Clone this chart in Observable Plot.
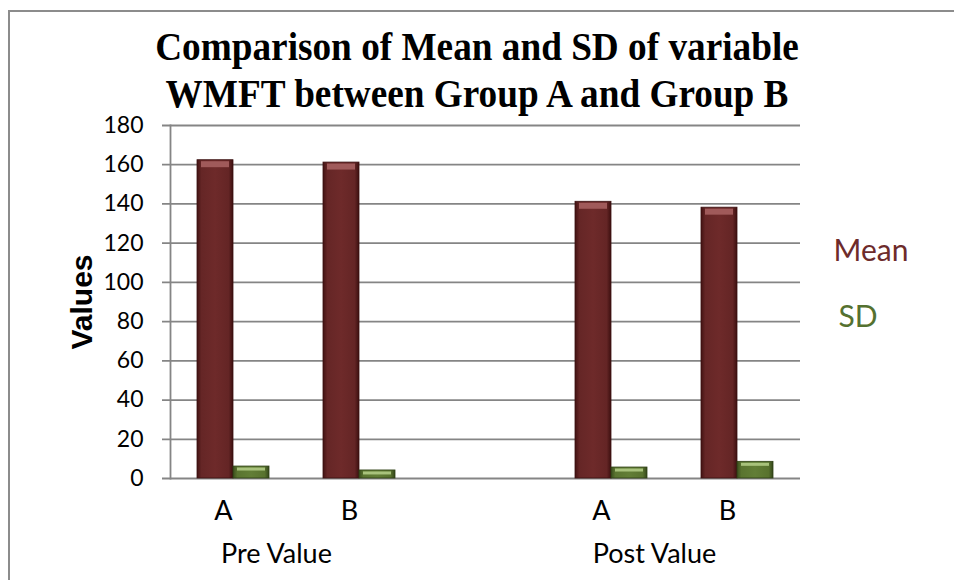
<!DOCTYPE html>
<html>
<head>
<meta charset="utf-8">
<script src="https://cdn.jsdelivr.net/npm/d3@7"></script>
<script src="https://cdn.jsdelivr.net/npm/@observablehq/plot@0.6"></script>
<style>
  html, body { margin: 0; padding: 0; background: #fff; }
  #wrap { position: relative; width: 954px; height: 580px; overflow: hidden; }
  #border { position: absolute; left: 8px; top: 10px; width: 1000px; height: 700px;
            border-left: 2.5px solid #8c8c8c; border-top: 2.5px solid #8c8c8c; }
  #title { position: absolute; left: 0; width: 954px; top: 23px; text-align: center;
           font-family: "Liberation Serif", "Times New Roman", serif; font-weight: bold;
           font-size: 39px; line-height: 47px; color: #000;
           transform: scaleX(0.955); transform-origin: 477px 0; }
  #chart { position: absolute; left: 0; top: 0; }
</style>
</head>
<body>
<svg width="0" height="0" style="position:absolute">
  <defs>
    <linearGradient id="gMean" x1="0" x2="1" y1="0" y2="0">
      <stop offset="0" stop-color="#421212"/>
      <stop offset="0.12" stop-color="#652626"/>
      <stop offset="0.5" stop-color="#6e2a2a"/>
      <stop offset="0.88" stop-color="#642525"/>
      <stop offset="1" stop-color="#3c0f0f"/>
    </linearGradient>
    <linearGradient id="gSD" x1="0" x2="1" y1="0" y2="0">
      <stop offset="0" stop-color="#3a4d1c"/>
      <stop offset="0.12" stop-color="#5a7430"/>
      <stop offset="0.5" stop-color="#627e36"/>
      <stop offset="0.88" stop-color="#58722e"/>
      <stop offset="1" stop-color="#34461a"/>
    </linearGradient>
  </defs>
</svg>
<div id="wrap">
  <div id="border"></div>
  <div id="chart"></div>
  <div id="title">Comparison of Mean and SD of variable<br>WMFT between Group A and Group B</div>
</div>
<script>
// ---- data ----
const phases = ["Pre Value", "Pre Value", "Post Value", "Post Value"];
const groups = ["A", "B", "A", "B"];
const meanValues = [162.3, 161.1, 141.1, 138.1];
const sdValues = [6.1, 4.1, 5.6, 8.5];
const seriesNames = ["Mean", "SD"];
const yTicks = [0, 20, 40, 60, 80, 100, 120, 140, 160, 180];
const phaseNames = ["Pre Value", "Post Value"];
const gapSlot = "gap";

// ---- build table ----
const rows = phases.map((p, i) => ({
  slot: p + "|" + groups[i], phase: p, group: groups[i],
  mean: meanValues[i], sd: sdValues[i]
}));
const slotOrder = [rows[0].slot, rows[1].slot, gapSlot, rows[2].slot, rows[3].slot];
const phaseRows = phaseNames.map(p => ({phase: p, slot: rows.find(r => r.phase === p).slot}));

const grid = "#858585";
const chart = Plot.plot({
  width: 954,
  height: 580,
  marginLeft: 170,
  marginRight: 154,
  marginTop: 125,
  marginBottom: 102,
  style: {fontFamily: "Lato, 'Open Sans', sans-serif", fontSize: "22px", background: "transparent", overflow: "visible"},
  x: {type: "band", domain: slotOrder, padding: 0},
  y: {domain: [0, 180]},
  marks: [
    Plot.ruleY(yTicks, {stroke: grid, strokeWidth: 1.8, insetLeft: -8}),
    Plot.frame({anchor: "left", stroke: grid, strokeWidth: 1.8}),
    Plot.axisY({ticks: yTicks, tickSize: 0, tickPadding: 27, label: null, fill: "#000", fontSize: 23}),
    Plot.axisX({tickSize: 0, tickPadding: 22, label: null, dx: -10, fontSize: 27, fill: "#000",
      tickFormat: d => { const r = rows.find(r => r.slot === d); return r ? r.group : ""; }}),
    Plot.barY(rows, {x: "slot", y: "mean", fill: "url(#gMean)", stroke: "#3a1010", strokeWidth: 0.8,
      insetLeft: 27, insetRight: 63}),
    Plot.tickY(rows, {x: "slot", y: "mean", stroke: "#a05a5a", strokeWidth: 6, dy: 4,
      insetLeft: 31, insetRight: 67}),
    Plot.barY(rows, {x: "slot", y: "sd", fill: "url(#gSD)", stroke: "#2f4015", strokeWidth: 0.8,
      insetLeft: 63, insetRight: 27}),
    Plot.tickY(rows, {x: "slot", y: "sd", stroke: "#a8c27c", strokeWidth: 3, dy: 2.5,
      insetLeft: 67, insetRight: 31}),
    Plot.text(phaseRows, {x: "slot", text: "phase", frameAnchor: "bottom", dy: 84, dx: 43,
      fontSize: 27, fill: "#000"}),
    Plot.text(["Values"], {frameAnchor: "left", dx: -88, rotate: -90, textAnchor: "middle", fontSize: 30,
      fontWeight: "bold", fontFamily: "'Liberation Sans', Arial, sans-serif", fill: "#000"}),
    Plot.text([seriesNames[0]], {frameAnchor: "top-right", dx: 33, dy: 135, textAnchor: "start",
      lineAnchor: "bottom", fontSize: 30, fill: "#6d2b2b"}),
    Plot.text([seriesNames[1]], {frameAnchor: "top-right", dx: 38, dy: 201, textAnchor: "start",
      lineAnchor: "bottom", fontSize: 30, fill: "#557130"})
  ]
});
document.getElementById("chart").appendChild(chart);
</script>
</body>
</html>
